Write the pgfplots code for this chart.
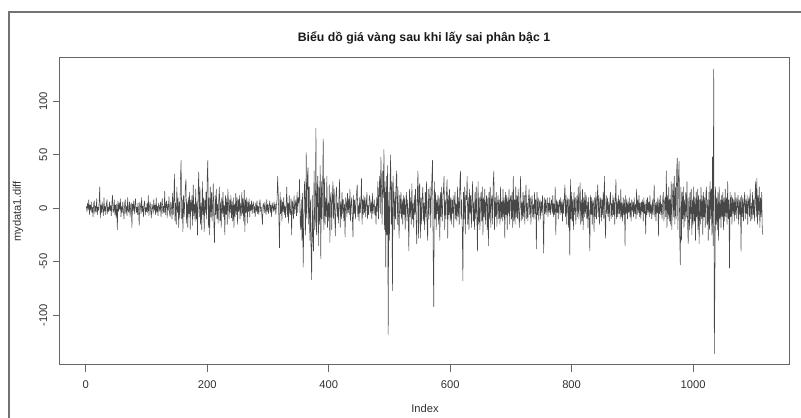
\documentclass[border=0pt]{standalone}
\usepackage{fontspec}
\setmainfont{Liberation Sans}
\usepackage{pgfplots}
\usepackage{pgfplotstable}
\pgfplotsset{compat=1.18}
\pgfplotstableread[row sep=\\, header=false]{
2\\ -3\\ 5\\ -1\\ 8\\ -6\\ 3\\ -2\\ 6\\ -4\\ 1\\ -8\\ 4\\ 7\\ -5\\ 2\\ -3\\ 9\\ -6\\ 1\\
-2\\ 5\\ 20\\ -9\\ 3\\ -4\\ 6\\ -1\\ -7\\ 10\\ -3\\ 2\\ -6\\ 4\\ 8\\ -5\\ 1\\ -3\\ 6\\ -2\\
3\\ -7\\ 5\\ 12\\ -4\\ -2\\ 8\\ -6\\ 3\\ -9\\ 4\\ -20\\ 7\\ -3\\ 5\\ -1\\ 9\\ -8\\ 2\\ -4\\
6\\ -3\\ -10\\ 4\\ 8\\ -5\\ 2\\ -7\\ 10\\ -2\\ -4\\ 6\\ -8\\ 3\\ 5\\ -18\\ 4\\ -2\\ 7\\ -5\\
3\\ 9\\ -4\\ 1\\ -6\\ 5\\ -2\\ -16\\ 6\\ 3\\ -5\\ 10\\ -3\\ 2\\ -8\\ 4\\ 7\\ -6\\ 1\\ -3\\
5\\ -4\\ 12\\ -7\\ 2\\ 6\\ -3\\ -9\\ 4\\ 1\\ -5\\ 8\\ -2\\ 3\\ -6\\ 10\\ -4\\ 2\\ -7\\ 5\\
1\\ -3\\ 6\\ -8\\ 4\\ 9\\ -5\\ 2\\ -4\\ 16\\ -6\\ 3\\ 7\\ -9\\ 4\\ -2\\ 11\\ -5\\ -8\\ 6\\
3\\ -10\\ 14\\ -6\\ 8\\ 32\\ -12\\ 5\\ -15\\ 20\\ -4\\ 10\\ -18\\ 6\\ -9\\ 28\\ 45\\ -10\\ 8\\ -22\\
12\\ -8\\ 5\\ 20\\ 27\\ -14\\ 6\\ -18\\ 10\\ -5\\ 15\\ -20\\ 8\\ -3\\ 12\\ -16\\ 22\\ -7\\ 4\\ -12\\
18\\ -10\\ 6\\ -25\\ 14\\ 34\\ -8\\ 20\\ -15\\ 5\\ -20\\ 25\\ -6\\ 10\\ -22\\ 8\\ -4\\ 15\\ -10\\ 30\\
45\\ -18\\ 10\\ -25\\ 20\\ -8\\ 15\\ -12\\ 5\\ 23\\ -15\\ -32\\ 12\\ -6\\ 18\\ -10\\ 4\\ -14\\ 8\\ 20\\
-12\\ 6\\ -18\\ 10\\ -5\\ 15\\ -8\\ 3\\ -25\\ 12\\ -6\\ 9\\ -15\\ 18\\ 5\\ -10\\ 8\\ -4\\ 12\\ -9\\
6\\ -12\\ 10\\ -18\\ 4\\ -8\\ 14\\ -6\\ 10\\ -15\\ 8\\ -3\\ 12\\ -10\\ 5\\ -7\\ 15\\ -5\\ 9\\ -12\\
17\\ -22\\ 8\\ -4\\ 10\\ -14\\ 6\\ -3\\ 9\\ -8\\ 4\\ -2\\ 7\\ -5\\ 3\\ 6\\ -4\\ 2\\ -8\\ 5\\
-3\\ 7\\ -5\\ 2\\ -6\\ 4\\ 8\\ -3\\ 1\\ -7\\ -15\\ 5\\ 3\\ -4\\ 6\\ -2\\ -6\\ 8\\ -3\\ 4\\
-5\\ 2\\ 7\\ -4\\ 3\\ -8\\ 5\\ 1\\ -3\\ 6\\ -2\\ 4\\ -6\\ 3\\ 8\\ 30\\ 12\\ -10\\ -37\\ 15\\
-5\\ 8\\ -12\\ 6\\ -3\\ 10\\ -6\\ 2\\ -9\\ 4\\ 20\\ -8\\ 5\\ -14\\ 12\\ -3\\ -6\\ 9\\ -25\\ 7\\
4\\ -10\\ 12\\ -5\\ 3\\ 8\\ -7\\ 15\\ -4\\ 10\\ 5\\ 27\\ -12\\ -20\\ 8\\ -30\\ 14\\ -55\\ -18\\ 25\\
10\\ -25\\ 52\\ -10\\ 30\\ 38\\ -15\\ 20\\ -30\\ 8\\ -40\\ -67\\ 12\\ -30\\ -40\\ 35\\ -20\\ -12\\ 75\\ -25\\
10\\ 30\\ -35\\ 20\\ -15\\ 40\\ -47\\ 25\\ -10\\ 18\\ 65\\ -20\\ 28\\ -15\\ 10\\ -8\\ 30\\ -18\\ 5\\ -12\\
22\\ -32\\ 10\\ 15\\ -20\\ 8\\ 25\\ -10\\ 18\\ -6\\ -26\\ 12\\ 20\\ -8\\ 5\\ -14\\ 10\\ 27\\ -18\\ 6\\
-10\\ 15\\ -5\\ 8\\ -12\\ 4\\ -27\\ 10\\ 6\\ -8\\ 14\\ -4\\ 9\\ -6\\ 18\\ -12\\ 5\\ 10\\ -8\\ -27\\
12\\ -5\\ 8\\ -10\\ 4\\ 15\\ 22\\ -8\\ 3\\ -12\\ 10\\ -4\\ 6\\ 28\\ -15\\ 8\\ -6\\ 12\\ -4\\ 10\\
-8\\ 5\\ 15\\ -10\\ 3\\ -6\\ 12\\ 8\\ -4\\ 6\\ -10\\ 14\\ -5\\ 3\\ 8\\ -6\\ 2\\ -15\\ 10\\ -3\\
25\\ -10\\ 15\\ 30\\ -5\\ 48\\ 20\\ -15\\ 35\\ 10\\ 55\\ -20\\ 25\\ -55\\ 30\\ -25\\ 40\\ -118\\ 15\\ -30\\
20\\ 50\\ -15\\ 25\\ -77\\ 30\\ 10\\ -20\\ 15\\ -10\\ 25\\ 35\\ -15\\ 20\\ -8\\ -28\\ 12\\ -5\\ 15\\ -10\\
8\\ -15\\ 12\\ -6\\ 10\\ -20\\ 5\\ 15\\ -12\\ 8\\ -6\\ -40\\ 18\\ -8\\ 10\\ -15\\ 23\\ -10\\ 5\\ -18\\
12\\ -6\\ 18\\ -10\\ -33\\ 15\\ 35\\ -28\\ 20\\ 23\\ -28\\ 10\\ -15\\ 8\\ 20\\ -12\\ 5\\ -20\\ 15\\ -8\\
25\\ -15\\ -30\\ 18\\ -10\\ 8\\ 20\\ -18\\ 12\\ 30\\ 45\\ -38\\ -92\\ 25\\ -10\\ 15\\ -20\\ 8\\ -5\\ 12\\
-15\\ 10\\ -30\\ 15\\ -8\\ 20\\ -12\\ 5\\ 18\\ 30\\ -20\\ 8\\ -10\\ 15\\ 27\\ -28\\ 12\\ -6\\ 18\\ -12\\
10\\ -15\\ 8\\ -5\\ 12\\ -18\\ 6\\ 15\\ -10\\ 4\\ -12\\ 20\\ -8\\ 10\\ -15\\ 25\\ 35\\ -10\\ 8\\ -20\\
-68\\ 15\\ -10\\ 20\\ -24\\ 12\\ 8\\ 30\\ -15\\ 10\\ -20\\ 18\\ -5\\ 12\\ -18\\ 8\\ 25\\ -12\\ 6\\ -20\\
15\\ -10\\ 20\\ -8\\ -40\\ 25\\ -15\\ 10\\ -20\\ 8\\ 15\\ -12\\ 20\\ -25\\ 10\\ -8\\ 18\\ -15\\ 5\\ 12\\
-20\\ 10\\ -35\\ 15\\ -10\\ 20\\ -18\\ 8\\ 12\\ -15\\ 25\\ 35\\ -20\\ 10\\ -8\\ 15\\ -17\\ 5\\ 12\\ -10\\
8\\ -15\\ 20\\ -10\\ 6\\ -12\\ 18\\ -8\\ 10\\ -28\\ 15\\ -6\\ 12\\ -20\\ 10\\ -5\\ 18\\ -15\\ 8\\ 12\\
-10\\ 15\\ -18\\ 30\\ -12\\ 8\\ -15\\ 20\\ -8\\ 12\\ -10\\ 18\\ -5\\ -18\\ 10\\ 30\\ -12\\ 6\\ -10\\ 15\\
-8\\ 12\\ -15\\ 10\\ 22\\ -10\\ 5\\ -12\\ 8\\ 18\\ -6\\ 10\\ -15\\ 6\\ 12\\ -8\\ 4\\ -10\\ 15\\ -5\\
8\\ -38\\ 15\\ -6\\ 10\\ -12\\ 5\\ 8\\ -10\\ 6\\ -4\\ 12\\ -8\\ -42\\ 10\\ -5\\ 8\\ -6\\ 4\\ 10\\
-8\\ 5\\ -4\\ 10\\ -6\\ 3\\ 8\\ -5\\ 12\\ -8\\ 4\\ -6\\ 20\\ -25\\ 8\\ -4\\ 6\\ -10\\ 5\\ 8\\
-6\\ 10\\ -4\\ 6\\ -12\\ 8\\ -5\\ 10\\ 22\\ -8\\ 12\\ -15\\ 6\\ 10\\ -18\\ 8\\ -44\\ 27\\ -10\\ 15\\
-12\\ 8\\ -20\\ 15\\ -6\\ 10\\ -15\\ 5\\ 12\\ -8\\ 20\\ -10\\ 6\\ 24\\ -15\\ 8\\ -12\\ 18\\ -20\\ 10\\
-8\\ 15\\ -5\\ 12\\ -10\\ 6\\ -18\\ 10\\ -8\\ -40\\ 12\\ -6\\ 10\\ -15\\ 8\\ 5\\ -22\\ 10\\ -8\\ 15\\
-10\\ 6\\ 22\\ -8\\ 12\\ -15\\ 5\\ 10\\ -12\\ 8\\ -6\\ 15\\ -10\\ 30\\ -8\\ -28\\ 12\\ -5\\ 10\\ -8\\
6\\ -12\\ 8\\ 15\\ -10\\ 5\\ -8\\ 12\\ -6\\ 10\\ -15\\ 8\\ 27\\ -10\\ 6\\ -8\\ 12\\ -5\\ 8\\ -10\\
18\\ -8\\ 5\\ -12\\ 10\\ -6\\ 8\\ -35\\ 12\\ -5\\ 8\\ -10\\ 6\\ -4\\ 10\\ -8\\ 5\\ -12\\ 8\\ -3\\
6\\ -8\\ 10\\ -5\\ 4\\ -10\\ 18\\ -6\\ 8\\ -4\\ 12\\ -8\\ 5\\ -10\\ 6\\ -3\\ 8\\ -12\\ 10\\ -5\\
4\\ -24\\ 8\\ -6\\ 10\\ -4\\ 6\\ -8\\ 12\\ -5\\ 3\\ -10\\ 8\\ -6\\ 4\\ 22\\ -8\\ 5\\ -12\\ 6\\
-4\\ 10\\ -26\\ 8\\ -5\\ 12\\ -6\\ 4\\ -10\\ 8\\ 15\\ -12\\ 6\\ 10\\ -8\\ 35\\ -18\\ 12\\ -10\\ 20\\
-12\\ 8\\ -15\\ 25\\ -20\\ 10\\ 23\\ -8\\ 30\\ -15\\ 20\\ -10\\ 35\\ 47\\ -20\\ 30\\ 44\\ -25\\ -53\\ 20\\
-30\\ 15\\ -10\\ 20\\ -18\\ 8\\ -12\\ 15\\ -8\\ 25\\ -15\\ -33\\ 10\\ -20\\ 15\\ -10\\ 18\\ -25\\ 8\\ -15\\
20\\ -12\\ 10\\ -30\\ 15\\ -8\\ 18\\ -20\\ 12\\ -33\\ 8\\ -15\\ 20\\ -10\\ 12\\ -25\\ 15\\ -8\\ 10\\ -18\\
12\\ 20\\ -15\\ 8\\ -30\\ 15\\ -20\\ 25\\ -10\\ 18\\ -25\\ 48\\ -35\\ 130\\ -136\\ -63\\ 20\\ -15\\ 10\\ -20\\
15\\ -30\\ 20\\ -10\\ 8\\ -18\\ 12\\ -8\\ 15\\ -20\\ 10\\ -12\\ 18\\ -8\\ 10\\ -15\\ 25\\ -10\\ 8\\ -56\\
15\\ -8\\ 12\\ -15\\ 10\\ -5\\ 8\\ -12\\ 15\\ -6\\ 10\\ -10\\ 5\\ 12\\ -15\\ 8\\ -6\\ 10\\ -40\\ 12\\
-8\\ 10\\ -12\\ 6\\ 15\\ -10\\ 8\\ -5\\ 12\\ -15\\ 6\\ 10\\ -8\\ 18\\ -12\\ 5\\ -10\\ 15\\ -6\\ 8\\
-12\\ 10\\ 25\\ -8\\ 28\\ -15\\ 12\\ -6\\ 20\\ -18\\ 10\\ -8\\ 15\\ -20\\ -25\\
}\mydata
\begin{document}
\begin{tikzpicture}[x=0.75pt,y=0.75pt]
\useasboundingbox (-59.3,-53) rectangle (741.7,365);
\draw[black!55, line width=0.9pt] (-51.3,353) -- (741.7,353);
\draw[black!55, line width=0.9pt] (-50.3,353) -- (-50.3,-53);
\begin{axis}[
  at={(0,0)}, anchor=south west,
  scale only axis, width=548pt, height=230.25pt,
  xmin=-43.56, xmax=1159.56, ymin=-146.64, ymax=140.64,
  xtick={0,200,400,600,800,1000},
  ytick={-100,-50,0,50,100},
  xtick pos=bottom, ytick pos=left,
  tick align=outside, major tick length=5pt,
  axis line style={black!60, line width=0.75pt},
  every tick/.style={black!60, line width=0.75pt},
  tick label style={font=\fontsize{8.4}{10}\selectfont, text=black!80, inner sep=0pt},
  xticklabel style={anchor=north},
  yticklabel style={rotate=90, anchor=south},
  xticklabel shift=6.3pt,
  yticklabel shift=3.8pt,
  /pgf/number format/assume math mode=true,
  /pgf/number format/1000 sep={},
  clip=true,
]
\addplot[black!72, line width=0.4pt, mark=none, line join=round]
  table[x expr=\coordindex+1, y index=0] {\mydata};
\end{axis}
\node[font=\fontsize{9.2}{11}\selectfont\bfseries, text=black!90] at (364.7,327) {Biểu dồ giá vàng sau khi lấy sai phân bậc 1};
\node[font=\fontsize{8.4}{10}\selectfont, text=black!80] at (365.7,-43) {Index};
\node[font=\fontsize{8.4}{10}\selectfont, text=black!80, rotate=90] at (-41.3,153.5) {mydata1.diff};
\end{tikzpicture}
\end{document}
